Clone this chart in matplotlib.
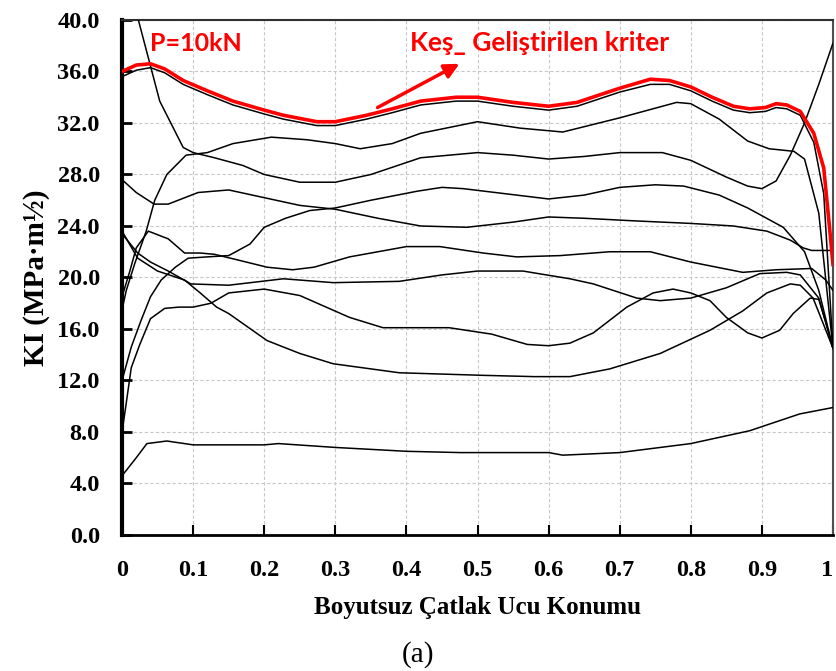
import numpy as np
import matplotlib.pyplot as plt

# KI values (x = boyutsuz konum, y = KI)
red_x = [0, 0.02, 0.04, 0.06, 0.086, 0.12, 0.156, 0.2, 0.227, 0.274, 0.3, 0.344, 0.38, 0.42, 0.47, 0.5, 0.55, 0.6, 0.64, 0.7, 0.743, 0.77, 0.8, 0.83, 0.86, 0.883, 0.905, 0.92, 0.935, 0.954, 0.973, 0.987, 0.996, 1.0]
red_y = [36.0, 36.5, 36.6, 36.2, 35.3, 34.5, 33.7, 33.0, 32.6, 32.1, 32.1, 32.6, 33.1, 33.7, 34.0, 34.0, 33.6, 33.3, 33.6, 34.7, 35.4, 35.3, 34.8, 34.0, 33.3, 33.1, 33.2, 33.5, 33.4, 32.9, 31.2, 28.5, 23.4, 21.0]

b1_x = [0, 0.02, 0.04, 0.06, 0.086, 0.12, 0.156, 0.2, 0.227, 0.274, 0.3, 0.344, 0.38, 0.42, 0.47, 0.5, 0.55, 0.6, 0.64, 0.7, 0.743, 0.77, 0.8, 0.83, 0.86, 0.883, 0.905, 0.92, 0.935, 0.954, 0.973, 0.987, 1.0]
b1_y = [35.6, 36.1, 36.3, 35.9, 35.0, 34.2, 33.4, 32.7, 32.3, 31.8, 31.8, 32.3, 32.8, 33.4, 33.7, 33.7, 33.3, 33.0, 33.3, 34.4, 35.0, 35.0, 34.5, 33.7, 33.0, 32.8, 32.9, 33.2, 33.1, 32.6, 30.5, 26.5, 14.5]

s_x = [0, 0.023, 0.053, 0.086, 0.1, 0.13, 0.17, 0.2, 0.25, 0.3, 0.35, 0.42, 0.5, 0.55, 0.6, 0.65, 0.7, 0.76, 0.8, 0.85, 0.88, 0.9, 0.92, 0.94, 0.96, 0.98, 1.0]
s_y = [45.0, 40.0, 33.7, 30.1, 29.7, 29.3, 28.7, 28.0, 27.4, 27.4, 28.0, 29.3, 29.7, 29.5, 29.2, 29.4, 29.7, 29.7, 29.1, 27.8, 27.1, 26.9, 27.5, 29.5, 32.0, 35.0, 38.2]

r1_x = [0, 0.006, 0.018, 0.034, 0.046, 0.063, 0.09, 0.12, 0.156, 0.21, 0.26, 0.3, 0.335, 0.38, 0.42, 0.5, 0.56, 0.62, 0.7, 0.78, 0.8, 0.84, 0.88, 0.91, 0.945, 0.96, 0.98, 1.0]
r1_y = [17.5, 19.0, 21.1, 23.6, 26.0, 28.0, 29.5, 29.7, 30.4, 30.9, 30.7, 30.4, 30.0, 30.4, 31.2, 32.1, 31.6, 31.3, 32.4, 33.6, 33.5, 32.3, 30.6, 30.0, 29.8, 29.2, 25.0, 14.5]

a_x = [0, 0.02, 0.045, 0.065, 0.107, 0.15, 0.2, 0.25, 0.3, 0.36, 0.42, 0.485, 0.55, 0.6, 0.65, 0.72, 0.8, 0.86, 0.907, 0.94, 0.958, 0.97, 1.0]
a_y = [27.6, 26.6, 25.7, 25.7, 26.6, 26.8, 26.2, 25.6, 25.3, 24.6, 24.0, 23.9, 24.3, 24.7, 24.6, 24.4, 24.2, 24.0, 23.6, 22.9, 22.3, 22.1, 22.1]

d_x = [0, 0.013, 0.027, 0.04, 0.055, 0.075, 0.093, 0.12, 0.15, 0.18, 0.2, 0.23, 0.264, 0.3, 0.35, 0.415, 0.45, 0.48, 0.54, 0.6, 0.65, 0.7, 0.75, 0.79, 0.84, 0.88, 0.93, 0.96, 0.98, 1.0]
d_y = [12.0, 14.6, 16.7, 18.5, 19.8, 20.8, 21.5, 21.6, 21.7, 22.6, 23.9, 24.6, 25.2, 25.4, 26.0, 26.7, 27.0, 26.9, 26.5, 26.1, 26.4, 27.0, 27.2, 27.1, 26.4, 25.4, 23.9, 22.0, 19.0, 14.5]

e_x = [0, 0.011, 0.02, 0.037, 0.065, 0.088, 0.11, 0.13, 0.16, 0.204, 0.24, 0.27, 0.32, 0.4, 0.447, 0.508, 0.555, 0.616, 0.686, 0.743, 0.8, 0.873, 0.92, 0.97, 0.99, 1.0]
e_y = [18.5, 20.5, 22.3, 23.6, 23.0, 21.9, 21.9, 21.8, 21.4, 20.8, 20.6, 20.8, 21.6, 22.4, 22.4, 21.9, 21.6, 21.7, 22.0, 22.0, 21.2, 20.4, 20.6, 20.7, 19.8, 19.0]

f_x = [0, 0.022, 0.04, 0.065, 0.097, 0.15, 0.227, 0.297, 0.39, 0.45, 0.5, 0.564, 0.63, 0.663, 0.724, 0.757, 0.8, 0.85, 0.897, 0.935, 0.954, 0.98, 0.996, 1.0]
f_y = [23.4, 21.9, 21.2, 20.5, 19.5, 19.4, 19.9, 19.6, 19.7, 20.2, 20.5, 20.5, 19.9, 19.5, 18.4, 18.2, 18.4, 19.2, 20.3, 20.4, 20.2, 18.4, 15.3, 14.5]

g_x = [0, 0.022, 0.05, 0.088, 0.11, 0.133, 0.15, 0.204, 0.25, 0.297, 0.39, 0.508, 0.58, 0.63, 0.686, 0.757, 0.827, 0.873, 0.907, 0.94, 0.954, 0.972, 0.99, 1.0]
g_y = [23.6, 21.5, 20.5, 19.8, 18.8, 17.7, 17.2, 15.1, 14.1, 13.3, 12.6, 12.4, 12.3, 12.3, 12.9, 14.1, 15.9, 17.4, 18.8, 19.5, 19.4, 18.4, 15.9, 14.5]

h_x = [0, 0.004, 0.013, 0.025, 0.04, 0.06, 0.08, 0.1, 0.125, 0.15, 0.2, 0.25, 0.32, 0.367, 0.46, 0.52, 0.57, 0.6, 0.63, 0.663, 0.71, 0.747, 0.775, 0.8, 0.827, 0.85, 0.88, 0.9, 0.925, 0.944, 0.968, 0.98, 0.99, 1.0]
h_y = [8.0, 9.5, 13.0, 14.8, 16.8, 17.6, 17.7, 17.7, 18.0, 18.8, 19.1, 18.6, 16.9, 16.1, 16.1, 15.6, 14.8, 14.7, 14.9, 15.7, 17.7, 18.8, 19.1, 18.8, 18.2, 16.9, 15.7, 15.3, 15.9, 17.2, 18.4, 18.3, 16.5, 14.5]

c1_x = [0, 0.02, 0.035, 0.063, 0.1, 0.2, 0.22, 0.3, 0.4, 0.476, 0.6, 0.62, 0.7, 0.8, 0.883, 0.953, 1.0]
c1_y = [4.6, 6.0, 7.1, 7.3, 7.0, 7.0, 7.1, 6.8, 6.5, 6.4, 6.4, 6.2, 6.4, 7.1, 8.1, 9.4, 9.9]

black_curves = [(b1_x, b1_y), (s_x, s_y), (r1_x, r1_y), (a_x, a_y), (d_x, d_y),
                (e_x, e_y), (f_x, f_y), (g_x, g_y), (h_x, h_y), (c1_x, c1_y)]

x_ticks = np.arange(0, 1.01, 0.1)
x_labels = ['0', '0.1', '0.2', '0.3', '0.4', '0.5', '0.6', '0.7', '0.8', '0.9', '1']
y_ticks = np.arange(0, 40.1, 4)

serif = ['Liberation Serif', 'DejaVu Serif']
sans = ['Lato', 'DejaVu Sans']

fig = plt.figure(figsize=(8.37, 6.71), dpi=100)
ax = fig.add_axes([0.1458, 0.2027, 0.8494, 0.7675])

for cx, cy in black_curves:
    ax.plot(cx, cy, '-', color='black', lw=1.1, zorder=3)
ax.plot(red_x, red_y, '-', color='red', lw=2.6, zorder=4)

ax.set_xlim(0, 1)
ax.set_ylim(0, 40)
ax.set_xticks(x_ticks)
ax.set_xticklabels(x_labels)
ax.set_yticks(y_ticks)
ax.set_yticklabels(['%.1f' % v for v in y_ticks])
ax.grid(True, color='#c8c8c8', ls=(0, (3, 2)), lw=0.8, zorder=0)

ax.tick_params(axis='y', direction='in', length=7, width=2, pad=16)
ax.tick_params(axis='x', direction='in', length=7, width=1.5, pad=18)
for lab in ax.get_xticklabels() + ax.get_yticklabels():
    lab.set_family(serif)
    lab.set_fontweight('bold')
    lab.set_fontsize(17.5)
# last label sits at the figure edge, keep it inside
ax.get_xticklabels()[-1].set_ha('right')

ax.spines['left'].set_linewidth(3)
ax.spines['bottom'].set_linewidth(2)
ax.spines['top'].set_linewidth(1.5)
ax.spines['right'].set_linewidth(1.5)
ax.spines['top'].set_color('#303030')
ax.spines['right'].set_color('#505050')

ax.set_xlabel('Boyutsuz Çatlak Ucu Konumu', family=serif, fontweight='bold', fontsize=18, labelpad=11)
ax.set_ylabel('KI (MPa·m½)', family=serif, fontweight='bold', fontsize=21, labelpad=5)

ax.text(0.039, 38.2, 'P=10kN', color='red', family=sans, fontweight='bold', fontsize=18, va='center', ha='left', zorder=5)
ax.text(0.405, 38.2, 'Keş_ Geliştirilen kriter', color='red', family=sans, fontweight='bold', fontsize=19, va='center', ha='left', zorder=5)
ax.annotate('', xy=(0.478, 36.7), xytext=(0.356, 33.1),
            arrowprops=dict(arrowstyle='-|>', color='red', lw=2.5, mutation_scale=22), zorder=5)

fig.text(0.5, 0.005, '(a)', family=serif, fontsize=21, ha='center', va='bottom')

plt.savefig('out.png', dpi=100)
